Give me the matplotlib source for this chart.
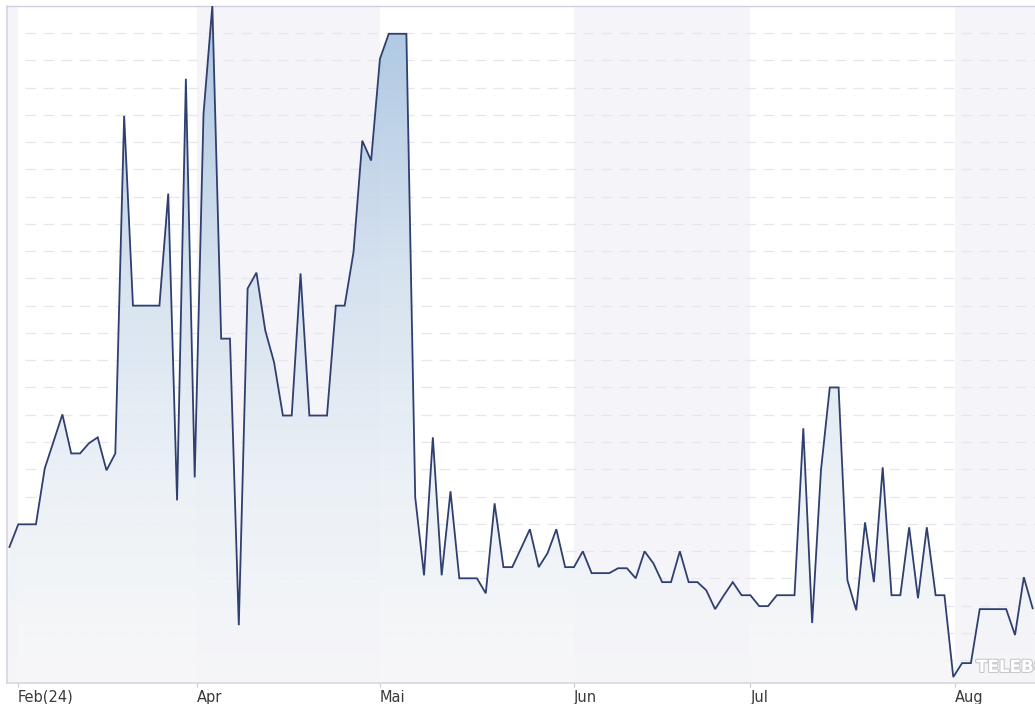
import numpy as np
import matplotlib
matplotlib.use("Agg")
import matplotlib.pyplot as plt
import matplotlib.patheffects as pe
from matplotlib.colors import LinearSegmentedColormap

# daily values (one point per trading day); grid step = 1 unit
VALUES = [
    5.15, 5.98, 5.98, 5.98, 8.03, 9.02, 10.01, 8.58, 8.58, 8.95,
    9.17, 7.96, 8.58, 20.96, 14.00, 14.00, 14.00, 14.00, 18.11, 6.86,
    22.32, 7.70, 21.04, 25.00, 12.79, 12.79, 2.28, 14.63, 15.21, 13.09,
    11.92, 9.97, 9.97, 15.18, 9.97, 9.97, 9.97, 14.00, 14.00, 15.95,
    20.05, 19.32, 23.05, 23.97, 23.97, 23.97, 6.97, 4.11, 9.17, 4.11,
    7.19, 4.00, 4.00, 4.00, 3.45, 6.75, 4.41, 4.41, 5.10, 5.80,
    4.41, 4.92, 5.80, 4.41, 4.41, 4.99, 4.19, 4.19, 4.19, 4.37,
    4.37, 4.00, 4.99, 4.55, 3.86, 3.86, 4.99, 3.86, 3.86, 3.56,
    2.87, 3.38, 3.86, 3.38, 3.38, 2.98, 2.98, 3.38, 3.38, 3.38,
    9.50, 2.36, 7.96, 11.00, 11.00, 3.93, 2.83, 6.05, 3.86, 8.07,
    3.38, 3.38, 5.87, 3.27, 5.87, 3.38, 3.38, 0.38, 0.89, 0.89,
    2.87, 2.87, 2.87, 2.87, 1.92, 4.04, 2.90,
]
MONTH_LABELS = ["Feb(24)", "Apr", "Mai", "Jun", "Jul", "Aug"]
MONTH_START = [0.96, 21.3, 42.0, 64.0, 84.0, 107.2]   # index where month begins

LINE = "#2f3f6f"
BAND = "#f4f4f9"
GRID = "#e6e6ec"

x = np.arange(len(VALUES))
y = np.array(VALUES)
XMIN, XMAX = -0.28, 117.06
YMIN, YMAX = 0.16, 25.0

fig = plt.figure(figsize=(10.35, 7.04), dpi=100)
ax = fig.add_axes([7 / 1035, 0.0298, 1.0, 0.9621])
ax.set_xlim(XMIN, XMAX)
ax.set_ylim(YMIN, YMAX)

# alternating month bands
edges = [XMIN] + MONTH_START + [XMAX]
for k in range(len(edges) - 1):
    if k % 2 == 0:
        ax.axvspan(edges[k], edges[k + 1], color=BAND, lw=0, zorder=0)

# dashed horizontal grid
ax.hlines(np.arange(1, 25), 1.8, XMAX, colors=GRID, lw=0.9,
          linestyles=(0, (8.6, 5.8)), zorder=1)

# gradient area under the curve
cmap = LinearSegmentedColormap.from_list(
    "area", [(0, "#f7f7f9"), (0.3, "#eaf0f6"), (0.6, "#d3e0ee"), (1, "#a3c0df")])
poly = ax.fill_between(x, y, YMIN, color="none", lw=0)
grad = np.linspace(0, 1, 256).reshape(-1, 1)
im = ax.imshow(grad, extent=[XMIN, XMAX, YMIN, YMAX], origin="lower",
               aspect="auto", cmap=cmap, alpha=0.9, zorder=2)
im.set_clip_path(poly.get_paths()[0], transform=ax.transData)

ax.plot(x, y, color=LINE, lw=1.3, zorder=3, solid_joinstyle="miter")

# watermark (cut off at the right edge, as in the source)
ax.text(109.6, 0.42, "TELEBÖRSE", fontsize=12, fontweight="bold", color="white",
        ha="left", va="bottom", zorder=4,
        path_effects=[pe.withStroke(linewidth=1.6, foreground="#c8c8cc")])

ax.spines["right"].set_visible(False)
ax.spines["left"].set_color("#d4d4e2"); ax.spines["left"].set_linewidth(1.2)
ax.spines["top"].set_color("#cfcfe0"); ax.spines["top"].set_linewidth(1.0)
ax.spines["bottom"].set_color("#d6d6de"); ax.spines["bottom"].set_linewidth(1.2)

ax.set_yticks([])
ax.set_xticks(MONTH_START)
ax.set_xticklabels(MONTH_LABELS, fontsize=10.5, color="#3a3a3a", ha="left")
ax.tick_params(axis="x", length=3, color="#c8c8d0", pad=2)

fig.savefig("out.png", dpi=100)
